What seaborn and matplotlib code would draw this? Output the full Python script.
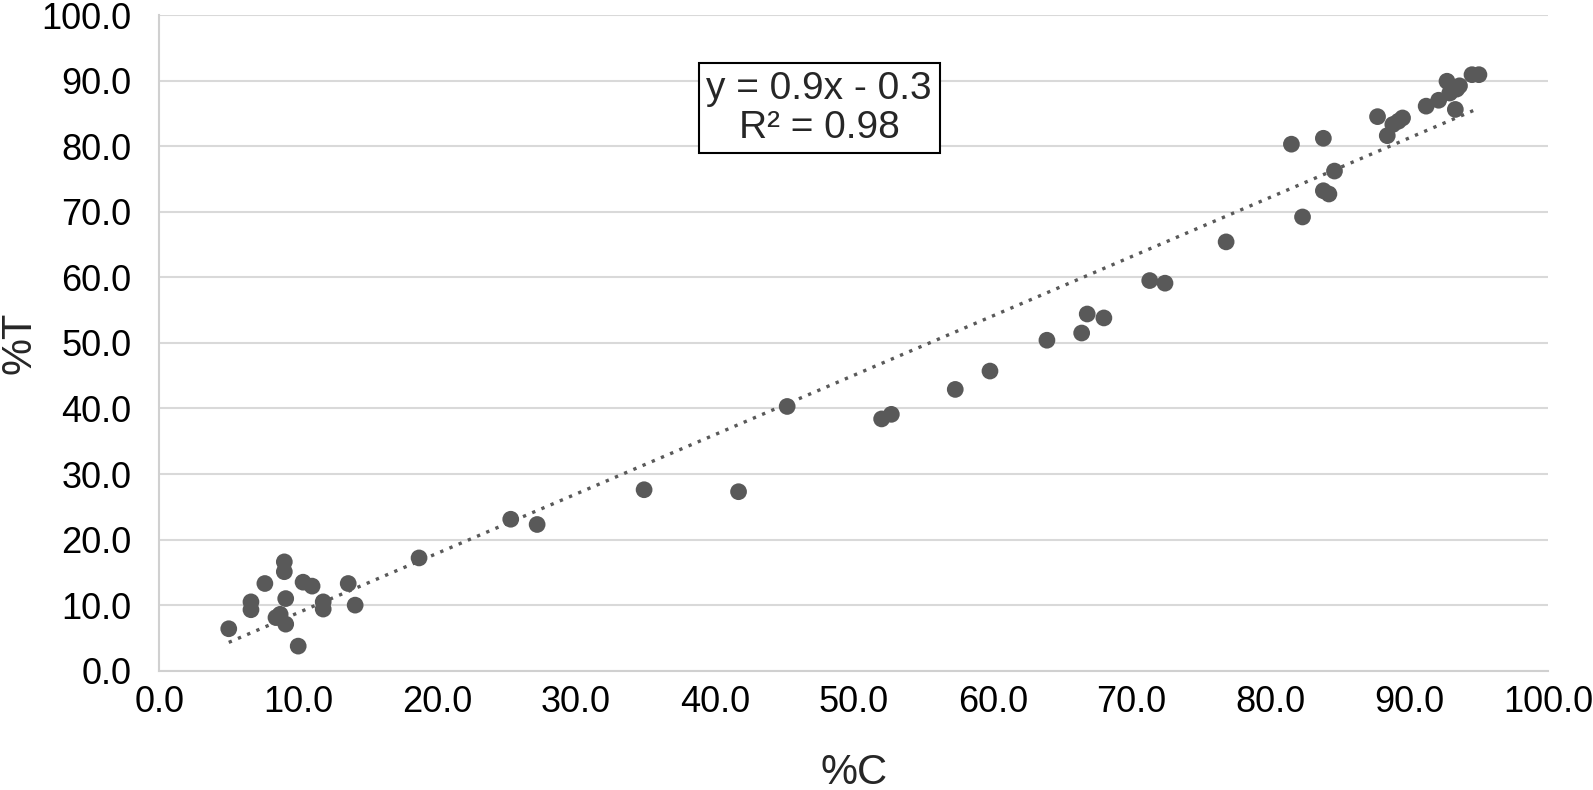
import numpy as np
import pandas as pd
import matplotlib
matplotlib.use("Agg")
import matplotlib.pyplot as plt
import seaborn as sns

# %C vs %T values
pct_c = [5.0, 6.6, 6.6, 7.6, 9.0, 9.0, 9.1, 8.4, 8.7, 9.1, 10.0, 10.35, 11.0,
         11.8, 11.8, 13.6, 14.1, 18.7, 25.3, 27.2, 34.9, 41.7, 45.2, 52.0,
         52.7, 57.3, 59.8, 63.9, 66.4, 66.8, 68.0, 71.3, 72.4, 76.8, 81.5,
         83.8, 82.3, 84.6, 83.8, 84.2, 87.7, 88.4, 88.8, 89.2, 89.5, 91.2,
         92.1, 92.7, 92.9, 93.4, 93.6, 93.3, 94.5, 95.0]
pct_t = [6.4, 10.5, 9.3, 13.3, 16.6, 15.1, 11.0, 8.1, 8.6, 7.1, 3.75, 13.5, 12.9,
         10.5, 9.4, 13.3, 10.0, 17.2, 23.1, 22.3, 27.6, 27.3, 40.3, 38.4,
         39.1, 42.9, 45.7, 50.4, 51.5, 54.4, 53.8, 59.5, 59.1, 65.4, 80.3,
         81.2, 69.2, 76.2, 73.2, 72.7, 84.5, 81.6, 83.3, 83.8, 84.3, 86.1,
         87.0, 89.9, 88.1, 88.7, 89.2, 85.6, 90.9, 90.9]
eq_text = "y = 0.9x - 0.3\nR² = 0.98"

df = pd.DataFrame({"C": pct_c, "T": pct_t})

sns.set_style("white")
plt.rcParams['font.family'] = ['Liberation Sans', 'DejaVu Sans']

fig = plt.figure(figsize=(15.93, 7.9), dpi=100)
ax = fig.add_axes([0.100, 0.151, 0.872, 0.830])

ax.yaxis.grid(True, color="#d9d9d9", linewidth=1.5)
ax.set_axisbelow(True)

sns.regplot(data=df, x="C", y="T", ax=ax, scatter=False, ci=None,
            line_kws=dict(color="#595959", linestyle=(0, (1, 2.0)), linewidth=2.4))
sns.scatterplot(data=df, x="C", y="T", ax=ax, color="#595959", s=145,
                edgecolor="none", zorder=3)

ax.set_xlim(0, 100)
ax.set_ylim(0, 100)
ax.set_xticks(np.arange(0, 101, 10))
ax.set_yticks(np.arange(0, 101, 10))
ax.xaxis.set_major_formatter(matplotlib.ticker.FormatStrFormatter("%.1f"))
ax.yaxis.set_major_formatter(matplotlib.ticker.FormatStrFormatter("%.1f"))
ax.tick_params(axis="both", length=0, labelsize=26, colors="black")
ax.tick_params(axis="x", pad=10)
ax.tick_params(axis="y", pad=20)

for s in ["top", "right"]:
    ax.spines[s].set_visible(False)
for s in ["left", "bottom"]:
    ax.spines[s].set_color("#d0d0d0")
    ax.spines[s].set_linewidth(1.5)

ax.set_xlabel("%C", fontsize=30, va="center")
ax.xaxis.set_label_coords(0.5, -0.156)
ax.set_ylabel("%T", fontsize=30, va="center")
ax.yaxis.set_label_coords(-0.101, 0.5)

ax.text(0.475, 0.858, eq_text, transform=ax.transAxes, ha="center", va="center",
        fontsize=28, linespacing=1.1,
        bbox=dict(boxstyle="square,pad=0.2", facecolor="white",
                  edgecolor="black", linewidth=1.5))

fig.savefig("out.png", dpi=100)
